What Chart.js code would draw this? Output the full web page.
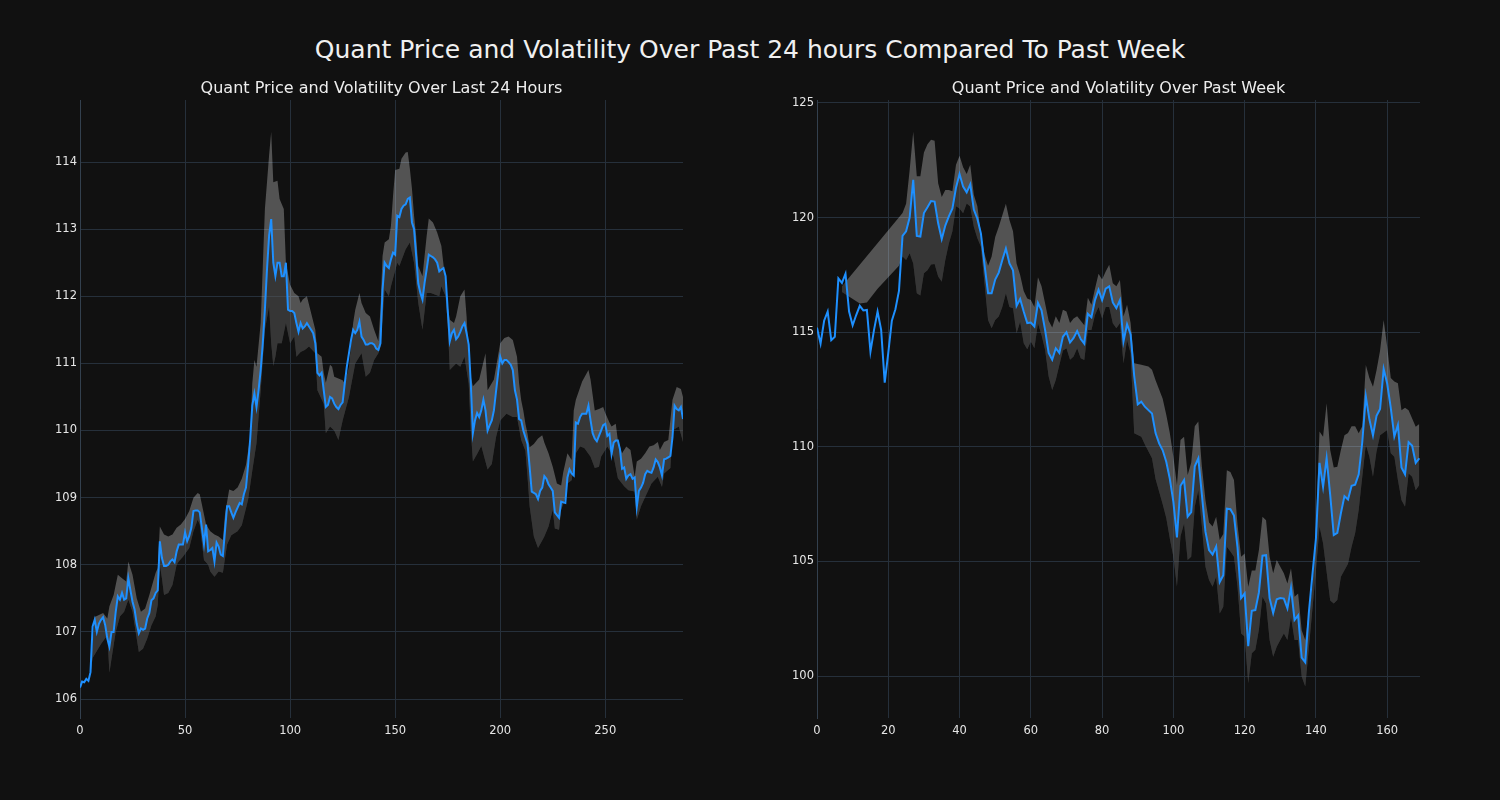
<!DOCTYPE html>
<html>
<head>
<meta charset="utf-8">
<script src="https://cdn.jsdelivr.net/npm/chart.js@4/dist/chart.umd.min.js"></script>
<style>
  body { margin:0; background:#111111; width:1500px; height:800px; overflow:hidden; position:relative; font-family:"DejaVu Sans", sans-serif; }
  #title { position:absolute; left:0; top:35px; width:1500px; text-align:center; color:#f0f0f0; font-size:25px; line-height:30px; }
  canvas { position:absolute; top:0; }
</style>
</head>
<body>
<div id="title">Quant Price and Volatility Over Past 24 hours Compared To Past Week</div>
<canvas id="chartDay" width="750" height="800" style="left:0"></canvas>
<canvas id="chartWeek" width="750" height="800" style="left:750px"></canvas>
<script>
// ---- data: last 24 hours (5 minute steps) ----
const price24 = [
  106.17,106.26,106.25,106.30,106.27,106.40,107.08,107.18,107.00,107.12,107.18,107.22,107.10,106.90,106.78,107.00,
  107.00,107.30,107.53,107.48,107.58,107.48,107.50,107.80,107.62,107.45,107.33,107.12,106.98,107.05,107.03,107.05,
  107.20,107.28,107.47,107.50,107.58,107.62,108.35,108.10,107.98,107.98,108.00,108.05,108.08,108.04,108.20,108.30,
  108.30,108.30,108.48,108.35,108.43,108.55,108.80,108.81,108.81,108.78,108.55,108.31,108.60,108.20,108.22,108.25,
  108.05,108.33,108.27,108.15,108.13,108.50,108.87,108.87,108.78,108.70,108.78,108.85,108.92,108.90,109.05,109.15,
  109.48,109.87,110.37,110.55,110.35,110.60,110.90,111.30,111.80,112.40,112.90,113.15,112.50,112.30,112.50,112.50,
  112.30,112.30,112.50,111.80,111.78,111.78,111.75,111.60,111.47,111.60,111.52,111.55,111.60,111.55,111.50,111.45,
  111.30,110.86,110.82,110.86,110.60,110.35,110.38,110.50,110.48,110.40,110.35,110.32,110.38,110.42,110.70,110.95,
  111.15,111.35,111.50,111.45,111.50,111.62,111.40,111.35,111.28,111.28,111.30,111.30,111.28,111.22,111.20,111.30,
  112.10,112.50,112.45,112.42,112.55,112.65,112.62,113.20,113.18,113.30,113.35,113.37,113.45,113.47,113.10,113.00,
  112.60,112.19,112.05,111.95,112.20,112.40,112.62,112.60,112.58,112.55,112.50,112.37,112.40,112.42,112.30,111.80,
  111.33,111.45,111.50,111.36,111.40,111.47,111.55,111.60,111.45,111.28,110.70,109.96,110.15,110.26,110.20,110.30,
  110.46,110.30,110.00,110.08,110.15,110.30,110.58,110.85,111.10,111.00,111.05,111.05,111.02,110.98,110.90,110.60,
  110.46,110.17,110.15,110.00,109.90,109.80,109.46,109.09,109.07,109.05,108.98,109.10,109.15,109.32,109.28,109.20,
  109.15,109.10,108.78,108.74,108.70,108.94,108.93,108.92,109.30,109.42,109.36,109.33,110.12,110.10,110.20,110.25,
  110.25,110.25,110.37,110.15,109.96,109.88,109.84,109.92,110.00,110.08,110.10,109.92,109.95,109.65,109.82,109.85,
  109.85,109.72,109.43,109.45,109.28,109.33,109.35,109.28,109.30,108.86,109.10,109.15,109.22,109.35,109.40,109.38,
  109.37,109.45,109.57,109.53,109.45,109.33,109.57,109.58,109.60,109.62,109.90,110.37,110.32,110.30,110.35,110.17
];
// volatility band edges: [step, price]
const upper24 = [
  [5,106.45],[7,107.22],[11,107.28],[13,107.2],[14,107.38],[16,107.55],[18,107.85],[20,107.8],[22,107.75],[23,108.05],
  [25,107.85],[27,107.5],[29,107.3],[31,107.35],[33,107.55],[36,107.88],[37,107.95],[38,108.57],[40,108.45],[42,108.42],
  [44,108.45],[46,108.55],[48,108.6],[50,108.68],[52,108.8],[54,109.0],[56,109.07],[57,109.05],[58,108.9],[60,108.6],
  [62,108.5],[64,108.45],[66,108.42],[68,108.37],[69,108.75],[71,109.12],[73,109.1],[75,109.15],[77,109.28],[79,109.49],
  [81,109.9],[82,110.7],[83,111.05],[84,110.95],[86,111.6],[88,113.3],[89,113.7],[90,114.1],[91,114.45],[92,113.7],
  [94,113.72],[95,113.45],[97,113.3],[98,112.5],[100,112.17],[102,112.05],[104,112.0],[105,111.9],[106,111.95],[108,112.0],
  [110,111.75],[112,111.5],[113,111.15],[115,111.1],[116,110.86],[117,110.71],[119,110.98],[120,110.95],[121,110.8],[125,110.75],
  [126,110.7],[128,110.95],[130,111.6],[131,111.8],[133,112.05],[134,111.9],[136,111.75],[138,111.7],[140,111.5],[142,111.33],
  [143,111.8],[144,112.6],[145,112.8],[147,112.85],[148,113.05],[149,113.5],[150,113.88],[152,113.9],[153,114.05],[155,114.14],
  [156,114.15],[157,113.9],[158,113.6],[159,113.2],[160,112.9],[161,112.45],[163,112.3],[164,112.6],[165,112.9],[166,113.16],
  [168,113.1],[170,112.95],[172,112.75],[174,112.2],[175,111.85],[176,111.65],[178,111.6],[179,111.7],[181,112.0],[183,112.1],
  [184,111.7],[185,111.1],[186,110.8],[187,110.66],[190,110.76],[193,111.15],[194,110.6],[197,110.76],[200,111.3],[202,111.38],
  [204,111.4],[206,111.35],[208,111.1],[209,110.7],[210,110.45],[211,110.3],[212,110.1],[213,109.95],[214,109.75],[216,109.8],
  [218,109.88],[220,109.93],[221,109.82],[223,109.66],[225,109.46],[227,109.21],[229,109.18],[230,109.38],[232,109.66],[234,109.56],
  [235,110.3],[236,110.46],[239,110.73],[242,110.9],[243,110.76],[245,110.3],[247,110.32],[249,110.35],[250,110.26],[252,110.12],
  [253,110.06],[255,110.1],[256,109.85],[258,109.66],[260,109.76],[262,109.71],[264,109.31],[265,109.54],[267,109.58],[269,109.66],
  [271,109.76],[273,109.78],[275,109.83],[276,109.71],[278,109.83],[280,109.86],[282,110.46],[284,110.65],[286,110.62],[287,110.5]
];
const lower24 = [
  [5,106.38],[6,106.61],[10,106.82],[13,106.95],[14,106.39],[15,106.6],[17,107.0],[19,107.23],[21,107.3],[23,107.48],
  [25,107.3],[26,107.1],[28,106.7],[30,106.75],[32,106.9],[34,107.1],[36,107.23],[37,107.4],[38,108.0],[39,107.8],
  [40,107.55],[42,107.58],[44,107.7],[46,108.0],[47,108.05],[49,108.12],[52,108.25],[54,108.5],[56,108.67],[57,108.6],
  [59,108.07],[61,108.0],[62,107.9],[64,107.82],[66,107.9],[68,107.88],[70,108.3],[72,108.44],[75,108.5],[77,108.59],
  [80,108.97],[82,109.4],[84,109.81],[86,110.6],[88,111.5],[90,111.85],[91,111.3],[92,110.96],[93,111.1],[94,111.3],
  [96,111.3],[98,111.6],[100,111.3],[102,111.4],[103,111.1],[105,111.17],[107,111.2],[109,111.25],[112,111.15],[113,110.6],
  [116,110.4],[117,109.96],[119,110.06],[121,110.0],[123,109.86],[125,110.15],[128,110.5],[131,111.0],[134,111.15],[136,110.8],
  [138,110.86],[140,111.05],[142,111.15],[143,111.25],[145,112.1],[147,112.0],[148,112.15],[151,112.5],[152,112.45],[155,112.7],
  [157,112.8],[159,112.5],[161,111.9],[163,111.5],[165,112.05],[167,112.05],[171,112.0],[172,112.15],[174,112.0],[175,111.6],
  [176,110.9],[179,111.0],[181,110.95],[183,111.1],[185,110.7],[186,110.0],[187,109.54],[189,109.65],[191,109.77],[194,109.42],
  [196,109.5],[198,109.9],[200,110.15],[203,110.25],[206,110.2],[208,110.2],[210,109.86],[212,109.7],[213,109.31],[214,108.87],
  [216,108.42],[218,108.25],[220,108.36],[221,108.42],[223,108.57],[225,108.82],[226,108.54],[228,108.52],[229,108.82],[231,108.99],
  [232,109.21],[234,109.26],[236,109.66],[238,109.76],[240,109.74],[243,109.61],[245,109.44],[247,109.46],[248,109.61],[251,109.76],
  [254,109.61],[256,109.29],[259,109.17],[261,109.11],[264,109.09],[265,108.67],[267,108.87],[269,109.01],[272,109.21],[275,109.31],
  [277,109.16],[278,109.36],[281,109.44],[282,110.0],[285,110.06],[287,109.83]
];

// ---- data: past week (hourly) ----
const priceWeek = [
  115.2,114.5,115.5,115.9,114.65,114.8,117.35,117.15,117.55,115.9,115.3,115.75,116.15,115.95,115.97,114.15,
  115.1,115.9,115.1,112.8,114.1,115.5,116.0,116.8,119.2,119.4,120.0,121.65,119.2,119.17,120.2,120.45,
  120.72,120.7,119.75,119.06,119.65,120.05,120.4,121.3,121.9,121.35,121.1,121.45,120.35,119.95,119.3,117.95,
  116.7,116.7,117.3,117.6,118.15,118.65,118.0,117.7,116.15,116.45,115.9,115.4,115.42,115.25,116.28,115.95,
  115.1,114.1,113.8,114.3,114.1,114.8,115.0,114.55,114.75,115.05,114.7,114.5,115.8,115.65,116.4,116.85,
  116.4,116.9,117.0,116.3,116.05,116.4,114.6,115.35,114.9,113.1,111.85,111.97,111.75,111.6,111.45,110.6,
  110.15,109.85,109.35,108.6,107.6,106.05,108.3,108.55,106.95,107.15,109.15,109.5,107.9,106.3,105.5,105.3,
  105.65,104.1,104.4,107.3,107.28,107.0,105.6,103.4,103.6,101.3,102.85,102.88,103.65,105.25,105.27,103.4,
  102.75,103.35,103.4,103.38,102.95,103.85,102.45,102.65,100.8,100.6,102.75,104.4,106.0,109.3,108.25,109.5,
  107.9,106.15,106.25,107.1,107.85,107.7,108.3,108.35,108.8,110.2,112.2,111.2,110.5,111.35,111.65,113.4,
  112.75,111.7,110.45,110.95,109.1,108.8,110.2,110.05,109.3,109.5
];
const upperWeek = [
  [7,117.0],[24,120.2],[25,120.6],[26,122.08],[27,123.75],[28,121.8],[29,121.8],[30,122.84],[31,123.2],[32,123.4],
  [33,123.35],[34,121.5],[35,120.9],[36,121.2],[37,121.2],[38,121.15],[39,122.3],[40,122.7],[41,122.2],[42,121.9],
  [43,122.3],[44,121.0],[45,120.5],[46,119.3],[47,118.4],[48,117.9],[49,118.3],[50,119.15],[51,119.6],[52,120.1],
  [53,120.6],[54,119.9],[55,119.4],[56,118.0],[57,117.5],[58,116.8],[59,116.47],[60,116.4],[61,116.1],[62,117.4],
  [63,117.0],[64,116.26],[65,115.5],[66,115.2],[67,115.7],[68,115.4],[69,115.98],[70,115.9],[71,115.4],[72,115.6],
  [73,115.7],[74,115.5],[75,115.3],[76,116.5],[77,116.2],[78,116.9],[79,117.55],[80,117.3],[81,117.65],[82,117.94],
  [83,117.14],[84,117.0],[85,117.28],[86,115.68],[87,116.2],[88,115.4],[89,113.65],[91,113.58],[93,113.5],[94,113.36],
  [95,112.9],[97,112.1],[98,111.4],[99,110.6],[100,109.57],[101,108.33],[102,110.3],[103,110.44],[104,108.77],[105,109.3],
  [106,110.9],[107,111.1],[108,109.13],[109,107.68],[110,106.7],[111,106.52],[112,106.95],[113,105.93],[114,106.2],[115,108.98],
  [116,108.9],[117,108.55],[118,106.6],[119,105.2],[120,105.35],[121,103.9],[122,104.6],[123,104.6],[124,105.5],[125,106.95],
  [126,106.8],[127,105.2],[128,104.48],[129,105.06],[130,104.77],[131,104.48],[132,104.04],[133,104.7],[134,103.46],[135,103.6],
  [136,102.0],[137,101.57],[139,103.9],[140,106.5],[141,110.67],[142,110.44],[143,111.9],[144,109.86],[145,109.1],[146,109.13],
  [147,109.86],[148,110.5],[149,110.6],[150,110.9],[151,110.9],[152,110.59],[153,110.9],[154,113.57],[155,113.0],[156,112.62],
  [157,113.34],[158,114.2],[159,115.53],[160,114.37],[161,113.0],[162,112.85],[163,112.77],[164,111.6],[165,111.7],[166,111.6],
  [168,110.88],[169,111.0]
];
const lowerWeek = [
  [7,116.75],[12,116.25],[14,116.3],[17,116.9],[23,117.9],[24,118.3],[25,118.15],[26,118.44],[27,118.0],[28,116.7],[29,116.6],
  [30,117.57],[31,117.7],
  [32,117.95],[33,117.98],[34,117.43],[35,117.2],[36,118.15],[37,118.87],[38,119.4],[39,120.5],[40,120.4],[41,120.19],
  [42,120.62],[43,120.48],[44,119.6],[45,119.1],[46,118.73],[47,117.13],[48,115.53],[49,115.17],[50,115.53],[51,115.68],
  [52,116.1],[53,116.7],[54,116.1],[55,116.04],[56,114.95],[57,115.46],[58,114.52],[59,114.26],[60,114.6],[61,114.3],
  [62,115.39],[63,114.88],[64,114.23],[65,113.07],[66,112.48],[67,112.92],[68,113.57],[69,114.2],[70,114.3],[71,113.8],
  [72,113.94],[73,114.3],[74,113.86],[75,113.79],[76,115.1],[77,115.1],[78,115.75],[79,116.1],[80,115.6],[81,116.1],
  [82,116.1],[83,115.39],[84,115.17],[85,115.39],[86,113.65],[87,114.66],[88,114.08],[89,110.59],[91,110.44],[92,110.1],
  [94,109.5],[95,108.6],[97,107.5],[98,106.9],[99,106.0],[100,105.2],[101,103.9],[102,106.1],[103,106.66],[104,105.06],
  [105,105.2],[106,107.4],[107,108.11],[108,106.52],[109,104.77],[110,104.19],[111,103.9],[112,104.33],[113,102.73],[114,103.02],
  [115,105.64],[116,105.43],[117,105.2],[118,103.9],[119,101.86],[120,101.72],[121,99.69],[122,101.0],[123,101.15],[124,102.02],
  [125,103.46],[126,103.17],[127,101.57],[128,100.84],[129,101.28],[130,101.57],[131,101.86],[132,101.57],[133,102.59],[134,101.57],
  [135,101.57],[136,99.98],[137,99.54],[138,101.2],[140,104.6],[141,106.52],[142,105.79],[144,103.3],[145,103.17],[146,103.32],
  [147,104.33],[149,104.9],[150,105.64],[151,106.23],[152,107.24],[153,108.69],[154,110.1],[155,109.57],[156,108.69],[157,109.8],
  [158,110.5],[160,110.73],[161,109.72],[162,109.57],[163,108.55],[164,107.68],[165,107.39],[166,108.84],[167,108.69],[168,108.11],
  [169,108.33]
];

// tick labels
const tickX24 = [0, 50, 100, 150, 200, 250];
const tickY24 = [106, 107, 108, 109, 110, 111, 112, 113, 114];
const tickXWeek = [0, 20, 40, 60, 80, 100, 120, 140, 160];
const tickYWeek = [100, 105, 110, 115, 120, 125];

const GRID = '#26303b';
const SPINE = '#33404e';
const LABEL = '#e6e6e6';
const BAND = 'rgba(255,255,255,0.28)';
const BAND_LOW = 'rgba(0,0,0,0.34)';

Chart.defaults.font.family = 'DejaVu Sans';
Chart.defaults.color = LABEL;

function pts(arr) { return arr.map((v, i) => ({ x: i, y: v })); }
function pairs(arr) { return arr.map(p => ({ x: p[0], y: p[1] })); }

function makeChart(id, cfg) {
  return new Chart(document.getElementById(id), {
    type: 'line',
    data: {
      datasets: [
        { data: pts(cfg.price), borderColor: '#1e90ff', borderWidth: 2, pointRadius: 0, fill: false, order: 0 },
        { data: pairs(cfg.upper), borderColor: 'transparent', borderWidth: 0, pointRadius: 0,
          fill: { target: 2, above: BAND, below: BAND }, order: 2 },
        { data: pairs(cfg.lower), borderColor: 'transparent', borderWidth: 0, pointRadius: 0,
          fill: { target: 0, above: 'rgba(0,0,0,0)', below: BAND_LOW }, order: 1 }
      ]
    },
    options: {
      responsive: false,
      animation: false,
      events: [],
      layout: { padding: { left: 0, right: cfg.padRight, top: 79, bottom: 0 } },
      plugins: {
        legend: { display: false },
        tooltip: { enabled: false },
        title: {
          display: true, text: cfg.title, color: '#eeeeee', fullSize: false,
          font: { size: 16, weight: 'normal' }, padding: { top: 0, bottom: 1.8 }
        }
      },
      scales: {
        x: {
          type: 'linear', min: 0, max: cfg.xMax,
          grid: { color: GRID, drawTicks: false },
          border: { display: false },
          ticks: { color: LABEL, font: { size: 11.5 }, padding: 6, maxRotation: 0 },
          afterBuildTicks: s => { s.ticks = cfg.tickX.map(v => ({ value: v })); },
          afterFit: s => { s.height = 82; }
        },
        y: {
          min: cfg.yMin, max: cfg.yMax,
          grid: { color: GRID, drawTicks: false },
          border: { display: true, color: SPINE },
          ticks: { color: LABEL, font: { size: 11.5 }, padding: 3 },
          afterBuildTicks: s => { s.ticks = cfg.tickY.map(v => ({ value: v })); },
          afterFit: s => { s.width = cfg.yWidth; }
        }
      }
    }
  });
}

makeChart('chartDay', {
  price: price24, upper: upper24, lower: lower24,
  title: 'Quant Price and Volatility Over Last 24 Hours',
  xMax: 287, yMin: 105.717, yMax: 114.924, tickX: tickX24, tickY: tickY24,
  yWidth: 80, padRight: 67
});

makeChart('chartWeek', {
  price: priceWeek, upper: upperWeek, lower: lowerWeek,
  title: 'Quant Price and Volatility Over Past Week',
  xMax: 169.2, yMin: 98.17, yMax: 125.13, tickX: tickXWeek, tickY: tickYWeek,
  yWidth: 67, padRight: 80
});
</script>
</body>
</html>
